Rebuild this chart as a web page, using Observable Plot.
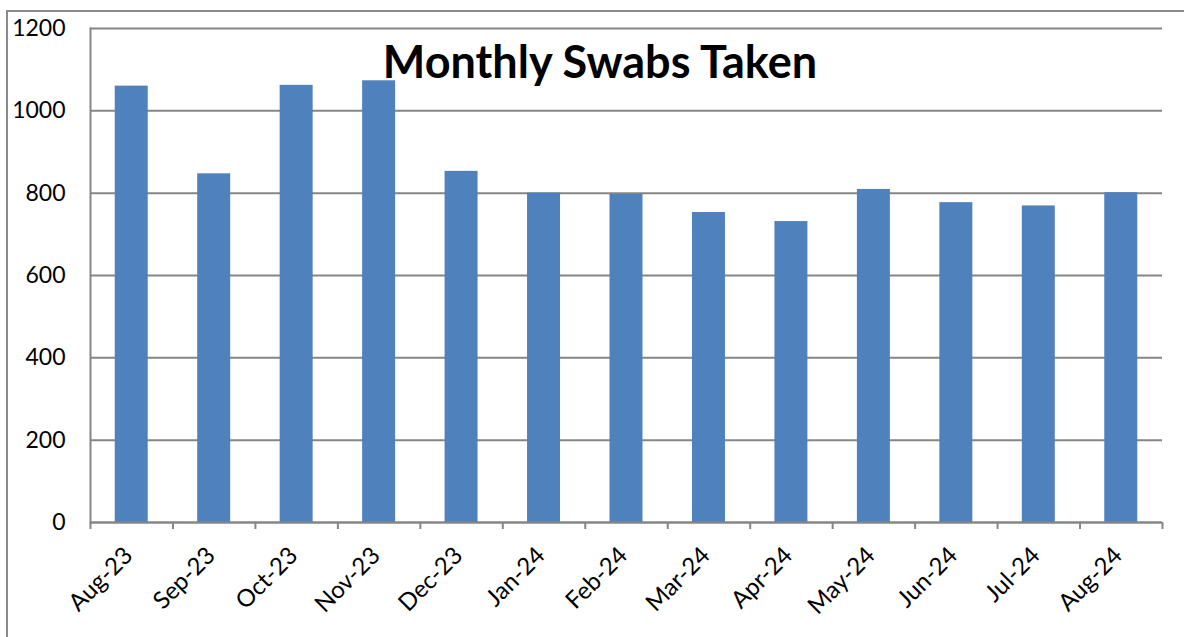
<!DOCTYPE html>
<html>
<head>
<meta charset="utf-8">
<script src="https://cdn.jsdelivr.net/npm/d3@7"></script>
<script src="https://cdn.jsdelivr.net/npm/@observablehq/plot@0.6"></script>
<style>
  html, body { margin: 0; padding: 0; background: #fff; }
  #wrap { position: relative; width: 1184px; height: 637px; overflow: hidden; background: #fff; }
  #border { position: absolute; left: 6px; top: 10px; width: 1300px; height: 800px; border: 2px solid #8a8a8a; box-sizing: border-box; }
  #chart { position: absolute; left: 0; top: 0; }
  #title { position: absolute; left: 0; width: 1200px; top: 36px; text-align: center; font-family: Lato, sans-serif; font-weight: bold; font-size: 45px; line-height: 50px; color: #000; }
</style>
</head>
<body>
<div id="wrap">
  <div id="border"></div>
  <div id="chart"></div>
  <div id="title">Monthly Swabs Taken</div>
</div>
<script>
const months = ["Aug-23","Sep-23","Oct-23","Nov-23","Dec-23","Jan-24","Feb-24","Mar-24","Apr-24","May-24","Jun-24","Jul-24","Aug-24"];
const swabs = [1060, 847, 1062, 1073, 853, 800, 797, 753, 731, 809, 777, 769, 801];
const yTicks = [0, 200, 400, 600, 800, 1000, 1200];

const data = months.map((m, i) => ({month: m, value: swabs[i]}));

const W = 1184, H = 637, ML = 90, MR = 22, MT = 28, MB = 115;
const step = (W - ML - MR) / months.length;
const gray = "#868686";
const font = "Lato, sans-serif";

const chart = Plot.plot({
  width: W,
  height: H,
  marginLeft: ML,
  marginRight: MR,
  marginTop: MT,
  marginBottom: MB,
  style: {fontFamily: font, fontSize: "23px", color: "#000", background: "transparent"},
  x: {domain: months, paddingInner: 0.6, paddingOuter: 0.3, round: false, label: null},
  y: {domain: [0, 1200], label: null},
  marks: [
    Plot.gridY(yTicks, {stroke: gray, strokeOpacity: 1, strokeWidth: 2}),
    Plot.barY(data, {x: "month", y: "value", fill: "#4F81BD"}),
    Plot.frame({anchor: "left", stroke: gray, strokeWidth: 2}),
    Plot.ruleY([0], {stroke: gray, strokeWidth: 2}),
    Plot.axisY(yTicks, {tickSize: 0, tickPadding: 25, fontSize: 23, fill: "#000", tickFormat: d => String(d), label: null}),
    Plot.axisX(months, {text: null, tickSize: 7, dx: -step / 2, stroke: gray, strokeWidth: 2, label: null}),
    Plot.axisX([months[months.length - 1]], {text: null, tickSize: 7, dx: step / 2, stroke: gray, strokeWidth: 2, label: null}),
    Plot.axisX(months, {tickSize: 0, tickRotate: -45, tickPadding: 29, dx: -3, fontSize: 24, fill: "#000", label: null})
  ]
});
document.getElementById("chart").appendChild(chart);
</script>
</body>
</html>
